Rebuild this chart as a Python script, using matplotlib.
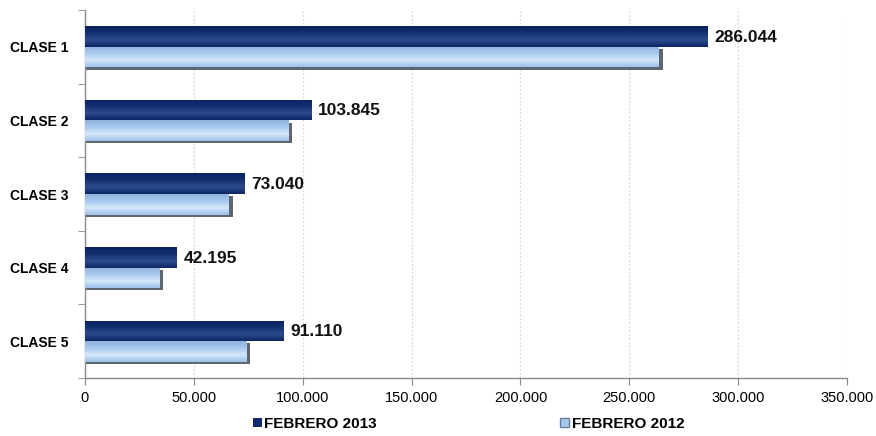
import numpy as np
import matplotlib
matplotlib.use("Agg")
import matplotlib.pyplot as plt
from matplotlib.colors import LinearSegmentedColormap
from matplotlib.patches import Patch

plt.rcParams['font.family'] = ['Liberation Sans', 'DejaVu Sans']

categories = ["CLASE 1", "CLASE 2", "CLASE 3", "CLASE 4", "CLASE 5"]
feb_2013 = [286044, 103845, 73040, 42195, 91110]
feb_2012 = [263500, 93300, 66000, 34000, 74000]
series_names = ["FEBRERO 2013", "FEBRERO 2012"]
x_ticks = [0, 50000, 100000, 150000, 200000, 250000, 300000, 350000]

dark = "#112a6c"
light = "#a6c9ef"

fig = plt.figure(figsize=(8.76, 4.36), dpi=100)
ax = fig.add_axes([0.097, 0.133, 0.870, 0.844])

n = len(categories)
y = np.arange(n)
h = 0.28

cmap_dark = LinearSegmentedColormap.from_list("d", ["#0b2160", "#14306f", "#2b4c8e", "#0d2563"])
cmap_light = LinearSegmentedColormap.from_list("l", ["#8fb3dc", "#a6c9ef", "#d4e8fb", "#9cc0e8"])


def gradient_bar(ax, x, yc, height, cmap, shadow=False):
    y0, y1 = yc - height / 2, yc + height / 2
    if shadow:
        # soft drop shadow to the right and below the bar
        ax.barh(yc + 0.03, x + 1900, height=height, left=0, color="#4f555e",
                alpha=0.9, zorder=2)
    bars = ax.barh(yc, x, height=height, color=cmap(0.5), zorder=3)
    patch = bars[0]
    grad = np.linspace(0, 1, 64).reshape(-1, 1)
    im = ax.imshow(grad, extent=(0, x, y1, y0), aspect="auto", cmap=cmap,
                   origin="upper", zorder=3.5, interpolation="bilinear")
    im.set_clip_path(patch)
    return patch


for i in range(n):
    gradient_bar(ax, feb_2013[i], y[i] - h / 2, h, cmap_dark)
    gradient_bar(ax, feb_2012[i], y[i] + h / 2, h, cmap_light, shadow=True)
    ax.text(feb_2013[i] + 3200, y[i] - h / 2 + 0.01, f"{feb_2013[i]:,}".replace(",", "."),
            va="center", ha="left", fontsize=12.5, fontweight="bold", color="#111111", zorder=5)

ax.set_xlim(0, 350000)
ax.set_ylim(n - 0.5, -0.5)
ax.set_xticks(x_ticks)
ax.set_xticklabels([f"{v:,}".replace(",", ".") for v in x_ticks])
ax.set_yticks(y)
ax.set_yticklabels(categories, fontweight="bold", fontsize=10)
ax.set_yticks(np.arange(-0.5, n, 1), minor=True)
ax.tick_params(axis="y", which="major", length=0, pad=12)
ax.tick_params(axis="y", which="minor", length=5, color="#8a8a8a")
ax.tick_params(axis="x", length=5, color="#8a8a8a", labelsize=10.5, pad=4)

ax.grid(axis="x", color="#d2d2d2", linestyle=(0, (1.5, 2)), linewidth=0.8, zorder=0)
ax.set_axisbelow(True)
for s in ["top", "right"]:
    ax.spines[s].set_visible(False)
for s in ["left", "bottom"]:
    ax.spines[s].set_color("#8a8a8a")
    ax.spines[s].set_linewidth(1.0)

handles = [Patch(facecolor=dark, edgecolor="none"), Patch(facecolor=light, edgecolor="#6c7d99")]
fig.legend(handles, series_names, loc="center", bbox_to_anchor=(0.535, 0.028), ncol=2,
           frameon=False, handlelength=0.6, handleheight=0.6, handletextpad=0.15,
           columnspacing=12.0, prop={"weight": "bold", "size": 11})

fig.savefig("out.png", dpi=100)
